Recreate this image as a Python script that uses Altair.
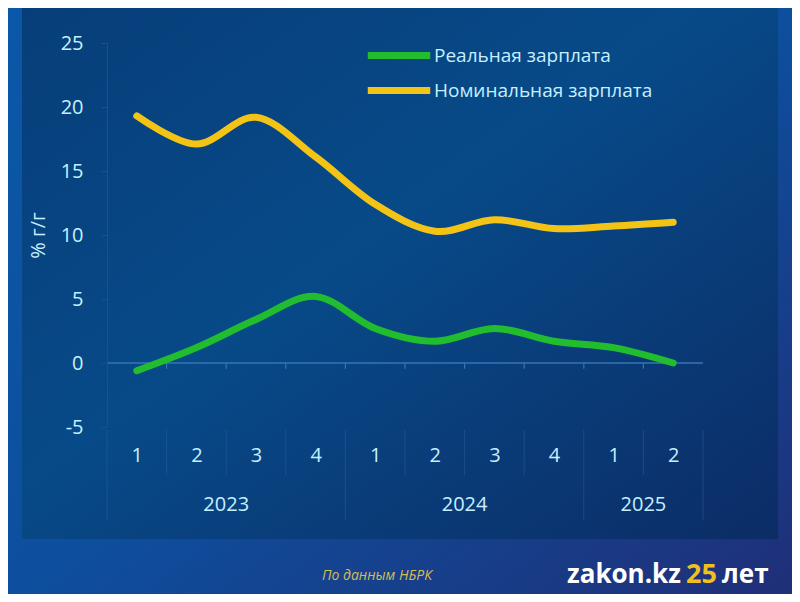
import altair as alt
import pandas as pd

quarters = ["1", "2", "3", "4", "1", "2", "3", "4", "1", "2"]
years = [2023, 2023, 2023, 2023, 2024, 2024, 2024, 2024, 2025, 2025]
real = [-0.6, 1.2, 3.4, 5.2, 2.7, 1.7, 2.7, 1.7, 1.2, 0.0]
nominal = [19.3, 17.1, 19.2, 16.1, 12.4, 10.3, 11.2, 10.5, 10.7, 11.0]
series_names = ["Реальная зарплата", "Номинальная зарплата"]
series_colors = ["#22bd2e", "#f3c416"]
year_labels = ["2023", "2024", "2025"]
year_centers = [1.5, 5.5, 8.5]
short_seps = [0.5, 1.5, 2.5, 4.5, 5.5, 6.5, 8.5]
long_seps = [-0.5, 3.5, 7.5, 9.5]
tick_seps = [0.5, 1.5, 2.5, 3.5, 4.5, 5.5, 6.5, 7.5, 8.5]

W, H = 596, 384
FONT = "Open Sans"
LABEL = "#c6f0ff"

rows = []
for i in range(len(quarters)):
    rows.append({"i": i, "series": series_names[0], "v": real[i]})
    rows.append({"i": i, "series": series_names[1], "v": nominal[i]})
df = pd.DataFrame(rows)

xscale = alt.Scale(domain=[-0.5, 9.5], nice=False, zero=False)
yscale = alt.Scale(domain=[-5, 25], nice=False)

bg = alt.Chart(pd.DataFrame({"a": [0]})).mark_rect(
    color=alt.Gradient(gradient="linear", x1=0, y1=0, x2=1, y2=1,
                       stops=[alt.GradientStop(color="#0b58a8", offset=0),
                              alt.GradientStop(color="#0d4f9e", offset=0.5),
                              alt.GradientStop(color="#202f78", offset=1)])
).encode(x=alt.value(-99), x2=alt.value(W + 89), y=alt.value(-35), y2=alt.value(H + 167))

panel = alt.Chart(pd.DataFrame({"a": [0]})).mark_rect(
    color=alt.Gradient(gradient="linear", x1=0, y1=0, x2=1, y2=1,
                       stops=[alt.GradientStop(color="#073e79", offset=0),
                              alt.GradientStop(color="#074a88", offset=0.45),
                              alt.GradientStop(color="#0c2c66", offset=1)])
).encode(x=alt.value(-85), x2=alt.value(W + 75), y=alt.value(-43), y2=alt.value(H + 112))

zero_rule = alt.Chart(pd.DataFrame({"a": [0]})).mark_rule(color="#3674b6", strokeWidth=1.5).encode(
    x=alt.datum(-0.5, scale=xscale), x2=alt.datum(9.5), y=alt.datum(0, scale=yscale)
)

ticks = alt.Chart(pd.DataFrame({"b": tick_seps})).mark_rule(color="#3674b6", strokeWidth=1.2).encode(
    x=alt.X("b:Q", scale=xscale), y=alt.datum(0, scale=yscale), y2=alt.datum(-0.45)
)

short = alt.Chart(pd.DataFrame({"b": short_seps})).mark_rule(color="#2a66a8", strokeWidth=1, opacity=0.45).encode(
    x=alt.X("b:Q", scale=xscale), y=alt.value(H + 3), y2=alt.value(H + 48)
)
long_ = alt.Chart(pd.DataFrame({"b": long_seps})).mark_rule(color="#2a66a8", strokeWidth=1, opacity=0.45).encode(
    x=alt.X("b:Q", scale=xscale), y=alt.value(H + 3), y2=alt.value(H + 93)
)

label_expr = "[" + ",".join("'%s'" % q for q in quarters) + "][datum.value]"

xaxis = alt.Axis(values=list(range(len(quarters))), labelExpr=label_expr, grid=False,
                 ticks=False, domain=False, title=None, labelFontSize=20,
                 labelFont=FONT, labelColor=LABEL, labelPadding=18, zindex=2)
yaxis = alt.Axis(values=list(range(-5, 26, 5)), grid=False, domainColor="#1b508a",
                 tickColor="#1b508a", tickSize=6, labelFontSize=20, labelFont=FONT,
                 labelColor=LABEL, labelPadding=18, title="% г/г", titleFont=FONT,
                 titleFontSize=20, titleFontWeight="normal", titleColor=LABEL,
                 titlePadding=12, zindex=2,
                 labelExpr="datum.value < 0 ? '-' + abs(datum.value) : datum.label")

lines = alt.Chart(df).mark_line(interpolate="cardinal", strokeWidth=7, strokeCap="round").encode(
    x=alt.X("i:Q", scale=xscale, axis=xaxis),
    y=alt.Y("v:Q", scale=yscale, axis=yaxis),
    color=alt.Color("series:N", sort=series_names,
                    scale=alt.Scale(domain=series_names, range=series_colors),
                    legend=alt.Legend(title=None, orient="none", legendX=257, legendY=-5,
                                      symbolType="stroke", symbolSize=3900, symbolStrokeWidth=7,
                                      clipHeight=35, labelFontSize=19, labelFont=FONT,
                                      labelColor=LABEL, labelOffset=0, rowPadding=0,
                                      labelLimit=400)),
)

year_text = alt.Chart(pd.DataFrame({"y": year_labels, "c": year_centers})).mark_text(
    font=FONT, fontSize=20, color=LABEL
).encode(x=alt.X("c:Q", scale=xscale), y=alt.value(H + 78), text="y:N")

src = alt.Chart(pd.DataFrame({"t": ["По данным НБРК"]})).mark_text(
    font=FONT, fontSize=14, fontStyle="italic", color="#d6bd55", align="left"
).encode(x=alt.value(215), y=alt.value(H + 149), text="t:N")

logo1 = alt.Chart(pd.DataFrame({"t": ["zakon.kz"]})).mark_text(
    font=FONT, fontSize=26, fontWeight="bold", color="white", align="left"
).encode(x=alt.value(460), y=alt.value(H + 148), text="t:N")
logo2 = alt.Chart(pd.DataFrame({"t": ["25"]})).mark_text(
    font=FONT, fontSize=27, fontWeight="bold", color="#f0c020", align="left"
).encode(x=alt.value(579), y=alt.value(H + 148), text="t:N")
logo3 = alt.Chart(pd.DataFrame({"t": ["лет"]})).mark_text(
    font=FONT, fontSize=26, fontWeight="bold", color="white", align="left"
).encode(x=alt.value(615), y=alt.value(H + 148), text="t:N")

chart = alt.layer(bg, panel, zero_rule, ticks, short, long_, lines, year_text, src, logo1, logo2, logo3).properties(
    width=W, height=H,
    padding={"left": 99, "top": 35, "right": 89, "bottom": 167},
    autosize=alt.AutoSizeParams(type="none"),
    background="#0c4f9c",
).configure_view(stroke=None)

chart.save("out.html", embed_options={"renderer": "svg", "actions": False})
